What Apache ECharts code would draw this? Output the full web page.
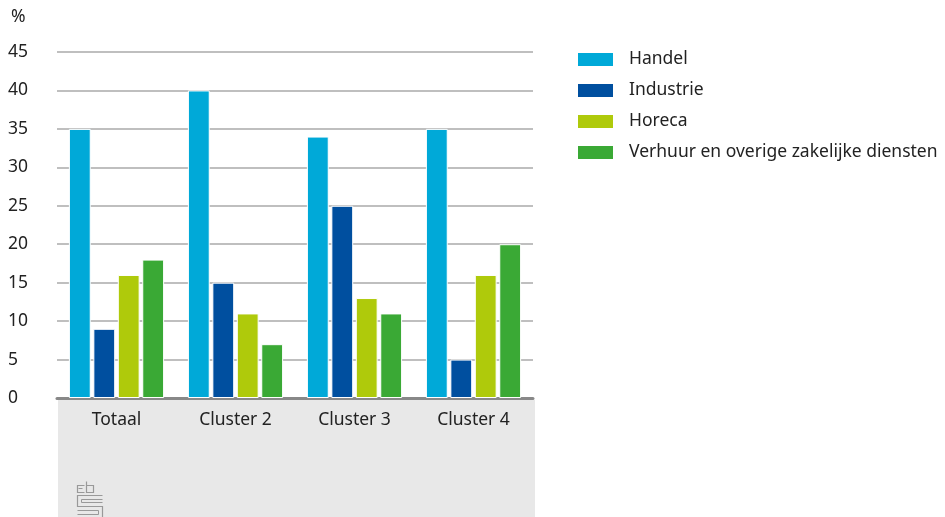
<!DOCTYPE html>
<html><head><meta charset="utf-8">
<script src="https://cdn.jsdelivr.net/npm/echarts@6/dist/echarts.min.js"></script>
<style>html,body{margin:0;padding:0;background:#fff}#c{width:945px;height:517px}</style>
</head><body><div id="c"></div>
<script>
const categories = ['Totaal', 'Cluster 2', 'Cluster 3', 'Cluster 4'];
const seriesNames = ['Handel', 'Industrie', 'Horeca', 'Verhuur en overige zakelijke diensten'];
const handel = [35, 40, 34, 35];
const industrie = [9, 15, 25, 5];
const horeca = [16, 11, 13, 16];
const verhuur = [18, 7, 11, 20];
const yTicks = [0, 5, 10, 15, 20, 25, 30, 35, 40, 45];
const colors = ['#00a9d8', '#004f9f', '#afca0b', '#3aa935'];

const font = '"Noto Sans", "Open Sans", sans-serif';
const fs = 17.5;
const chart = echarts.init(document.getElementById('c'));
const values = [handel, industrie, horeca, verhuur];
chart.setOption({
  animation: false,
  textStyle: { fontFamily: font },
  graphic: [
    { type: 'rect', shape: { x: 58, y: 400, width: 477, height: 117 }, style: { fill: '#e8e8e8' }, z: -10 },
    { type: 'text', left: 11, top: 8, style: { text: '%', fontSize: fs, fill: '#222', fontFamily: font } },
    { type: 'group', left: 75, top: 479, children: [
      { type: 'polyline', shape: { points: [[7,4],[0,4],[0,11],[7,11]] }, style: { stroke: '#999', lineWidth: 1.2, fill: null } },
      { type: 'polyline', shape: { points: [[9,0],[9,11],[16,11],[16,4],[9,4]] }, style: { stroke: '#999', lineWidth: 1.2, fill: null } },
      { type: 'polyline', shape: { points: [[1,7],[5,7]] }, style: { stroke: '#999', lineWidth: 1, fill: null } },
      { type: 'polyline', shape: { points: [[25,14],[0,14],[0,25],[25,25],[25,37],[0,37]] }, style: { stroke: '#999', lineWidth: 1.2, fill: null } },
      { type: 'polyline', shape: { points: [[25,18],[4,18],[4,21],[25,21]] }, style: { stroke: '#999', lineWidth: 1, fill: null } },
      { type: 'polyline', shape: { points: [[0,29],[21,29],[21,33],[0,33]] }, style: { stroke: '#999', lineWidth: 1, fill: null } }
    ]}
  ],
  legend: {
    orient: 'vertical', left: 571, top: 43, itemWidth: 37, itemHeight: 15, itemGap: 8,
    icon: 'rect',
    textStyle: { fontSize: fs, color: '#222', padding: [0, 0, 0, 10], fontFamily: font, lineHeight: 23 },
    data: seriesNames
  },
  grid: { left: 57, right: 412, top: 52, bottom: 119 },
  xAxis: {
    type: 'category', data: categories,
    axisLine: { lineStyle: { color: '#888', width: 3 } },
    axisTick: { show: false },
    axisLabel: { fontSize: fs, color: '#222', margin: 13, fontFamily: font }
  },
  yAxis: {
    type: 'value', min: 0, max: 45, interval: 5,
    axisLine: { show: false }, axisTick: { show: false },
    splitLine: { lineStyle: { color: '#aaa', width: 1.5 } },
    axisLabel: { fontSize: fs, color: '#222', align: 'left', margin: 49, fontFamily: font,
      formatter: v => yTicks.includes(v) ? String(v) : '' }
  },
  series: seriesNames.map((n, i) => ({
    name: n, type: 'bar', data: values[i],
    barCategoryGap: '20%', barGap: '12%',
    itemStyle: { color: colors[i], borderColor: '#fff', borderWidth: 1 }
  }))
});
</script></body></html>
